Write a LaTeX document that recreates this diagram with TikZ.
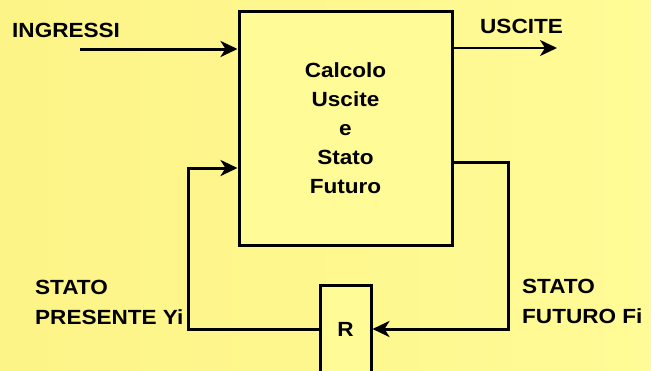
\documentclass[tikz,border=0pt]{standalone}
\usepackage{fontspec}
\setmainfont[FakeStretch=1.1]{Liberation Sans}
\usepackage{xcolor}
\usepackage{tikz}
\usetikzlibrary{arrows.meta,positioning,calc}
\definecolor{paleyellow}{RGB}{255,251,150}
\definecolor{deepyellow}{RGB}{253,244,135}

\begin{document}
\begin{tikzpicture}[x=1pt, y=-1pt,
      block/.style={draw=black, line width=3pt, fill=paleyellow, align=center,
                    inner sep=0pt, font=\fontsize{20.5}{29}\selectfont\bfseries},
      label/.style={anchor=base west, align=left, inner sep=0pt,
                    font=\fontsize{20.5}{30}\selectfont\bfseries},
      arrow/.style={-{Stealth[length=17pt, width=16pt, inset=5pt]}, line width=3pt},
      thinarrow/.style={-{Stealth[length=17pt, width=16pt, inset=5pt]}, line width=2pt}
    ]
      % --- background and page size ---
      \shade[left color=deepyellow, right color=paleyellow]
        (0,0) rectangle (651,370);
      \useasboundingbox (0,0) rectangle (651,370);

      % --- combinational block and register ---
      \node[block, minimum width=213pt, minimum height=234pt] (calc) at (345.5,128)
        {Calcolo\\Uscite\\e\\Stato\\Futuro};
      \node[block, minimum width=51pt, minimum height=88pt] (reg) at (345.5,329) {R};

      % --- texts ---
      \node[label] (ingressi) at (12,37)  {INGRESSI};
      \node[label] (uscite)   at (480,33) {USCITE};
      \node[label] (presente) at (35,324) {STATO\\PRESENTE Yi};
      \node[label] (futuro)   at (522,323) {STATO\\FUTURO Fi};

      % --- inputs and outputs ---
      \coordinate (in)  at (80,49);
      \coordinate (out) at (557,48);
      \draw[arrow]     (in) -- (in -| calc.west);
      \draw[thinarrow] (calc.east |- out) -- (out);

      % --- feedback loop through R ---
      \coordinate (fr) at (508,162);
      \coordinate (fl) at (188,168);
      \draw[arrow] (calc.east |- fr) -- (fr) |- (reg.east);
      \draw[arrow] (reg.west) -| (fl) -- (fl -| calc.west);
    \end{tikzpicture}
\end{document}
